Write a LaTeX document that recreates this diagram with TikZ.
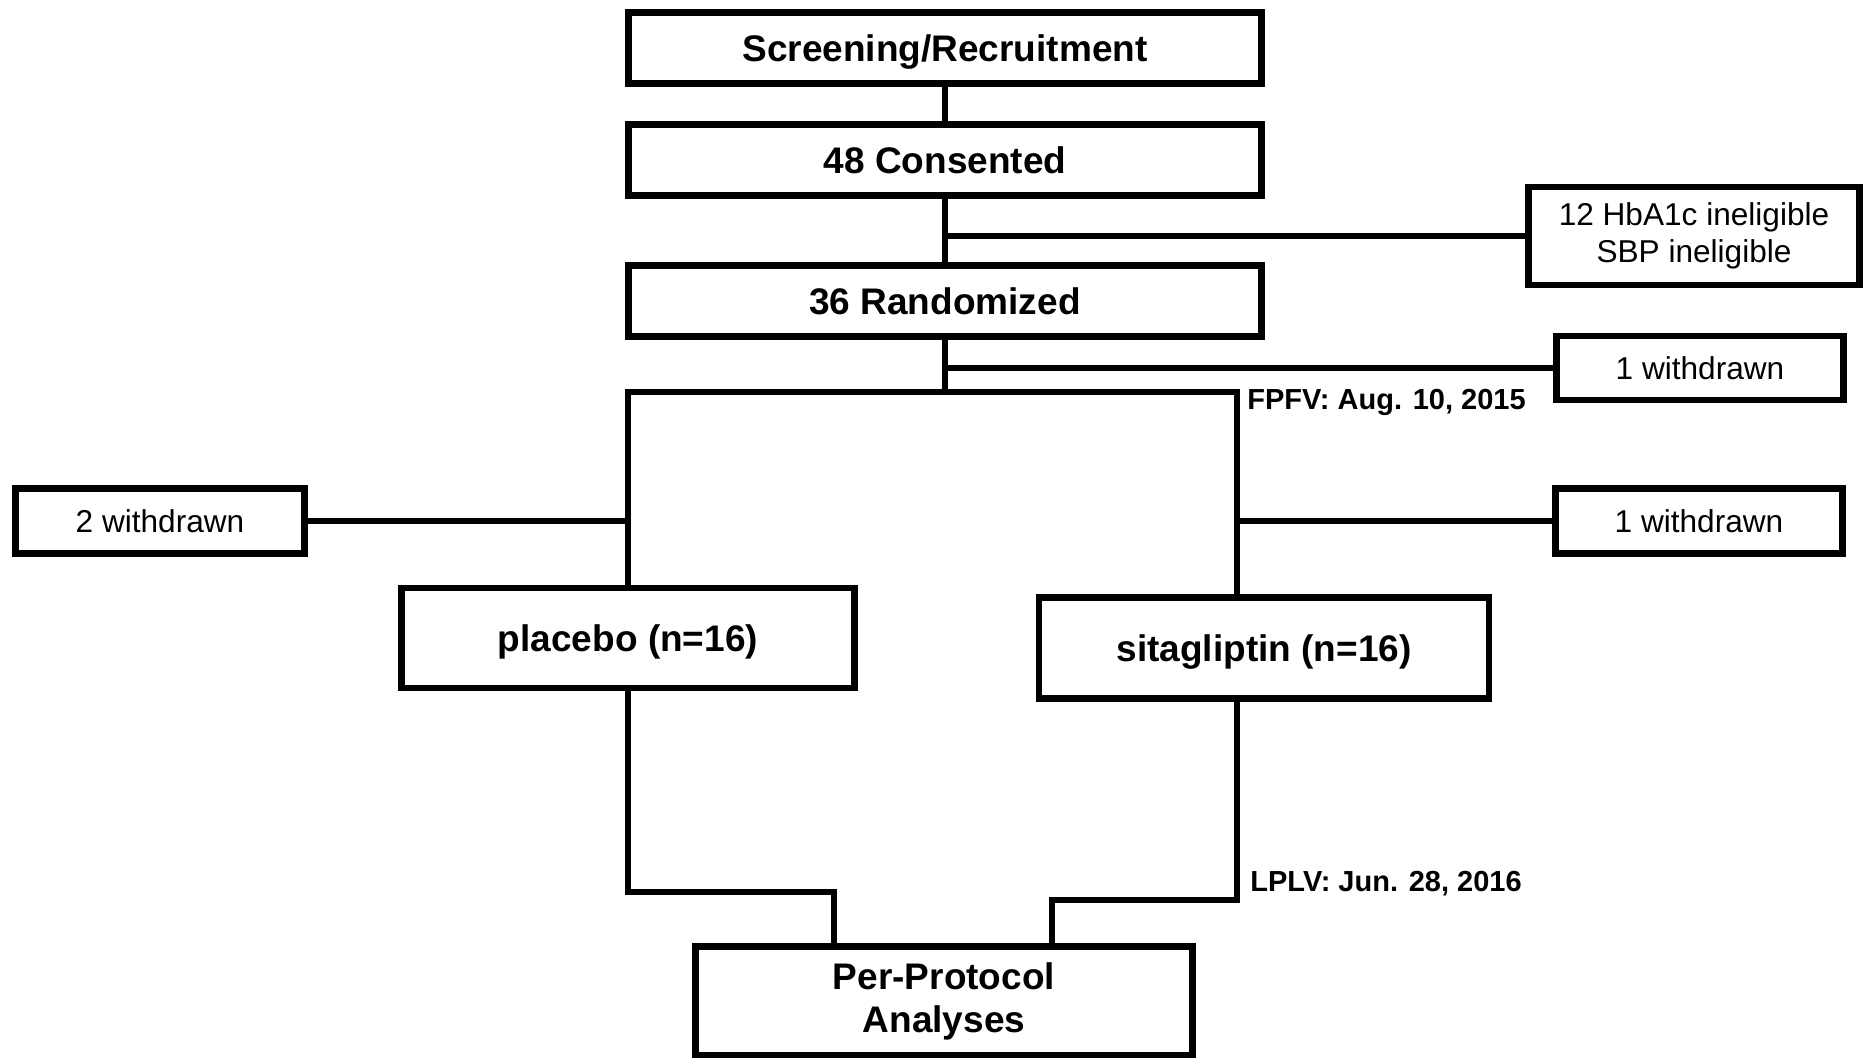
\documentclass[tikz,border=0pt]{standalone}
\usepackage{fontspec}
\setmainfont{Liberation Sans}
\usetikzlibrary{positioning}

\begin{document}
\begin{tikzpicture} [
    x=0.5pt, y=-0.5pt,
    box/.style = {draw, line width=3.4pt, outer sep=0pt, inner sep=0pt, align=center,
                  font=\bfseries\fontsize{18.5}{21.5}\selectfont},
    stage/.style = {box, text depth=0pt, minimum width=316.5pt, minimum height=35.5pt},
    side/.style = {draw, line width=3.4pt, outer sep=0pt, inner sep=0pt, align=center,
                   font=\fontsize{15.8}{18.5}\selectfont},
    link/.style = {line width=3pt},
    date/.style = {anchor=west, inner sep=0pt, font=\bfseries\fontsize{14.5}{17}\selectfont}
    ]
    \useasboundingbox (0,0) rectangle (1866,1058);

    % main column
    \node[stage] (screen) at (945,48) {Screening/Recruitment};
    \node[stage, below=20.5pt of screen] (consent) {48 Consented};
    \node[stage, below=35pt of consent] (random) {36 Randomized};

    % excluded / withdrawn
    \node[side, minimum width=165.5pt, minimum height=49pt] (inelig) at (1694,236) {12 HbA1c ineligible\\SBP ineligible};
    \node[side, minimum width=143.5pt, minimum height=32pt] (wdA) at (1700,368) {1 withdrawn};
    \node[side, minimum width=144.5pt, minimum height=32.5pt] (wdB) at (160,521) {2 withdrawn};
    \node[side, minimum width=143.5pt, minimum height=32.5pt] (wdC) at (1699,521) {1 withdrawn};

    % arms
    \node[box, text depth=0pt, minimum width=226.5pt, minimum height=50pt] (placebo) at (628,638) {placebo (n=16)};
    \node[box, text depth=0pt, minimum width=225pt, minimum height=50.5pt] (sita) at (1264,648) {sitagliptin (n=16)};
    \node[box, minimum width=248.5pt, minimum height=54.5pt] (pp) at (944,1001) {Per-Protocol\\Analyses};

    \node[date] (fpfv) at (1247,402) {FPFV: Aug. 10, 2015};
    \node[date] (lplv) at (1250,884) {LPLV: Jun. 28, 2016};

    \coordinate (split) at (945,392);
    \coordinate (rtop) at (1237,392);
    \coordinate (lbend) at (834,892);
    \coordinate (rbend) at (1052,900);

    \draw[link] (screen) -- (consent);
    \draw[link] (consent) -- (random);
    \draw[link] (consent.south |- inelig.west) -- (inelig.west);
    \draw[link] (random.south) -- (split);
    \draw[link] (random.south |- wdA.west) -- (wdA.west);
    \draw[link] (placebo.north) |- (rtop) -- (rtop |- sita.north);
    \draw[link] (wdB.east) -- (wdB.east -| placebo.north);
    \draw[link] (wdC.west) -- (wdC.west -| rtop);
    \draw[link] (placebo.south) |- (lbend) -- (lbend |- pp.north);
    \draw[link] (rtop |- sita.south) |- (rbend) -- (rbend |- pp.north);
  \end{tikzpicture}
\end{document}
